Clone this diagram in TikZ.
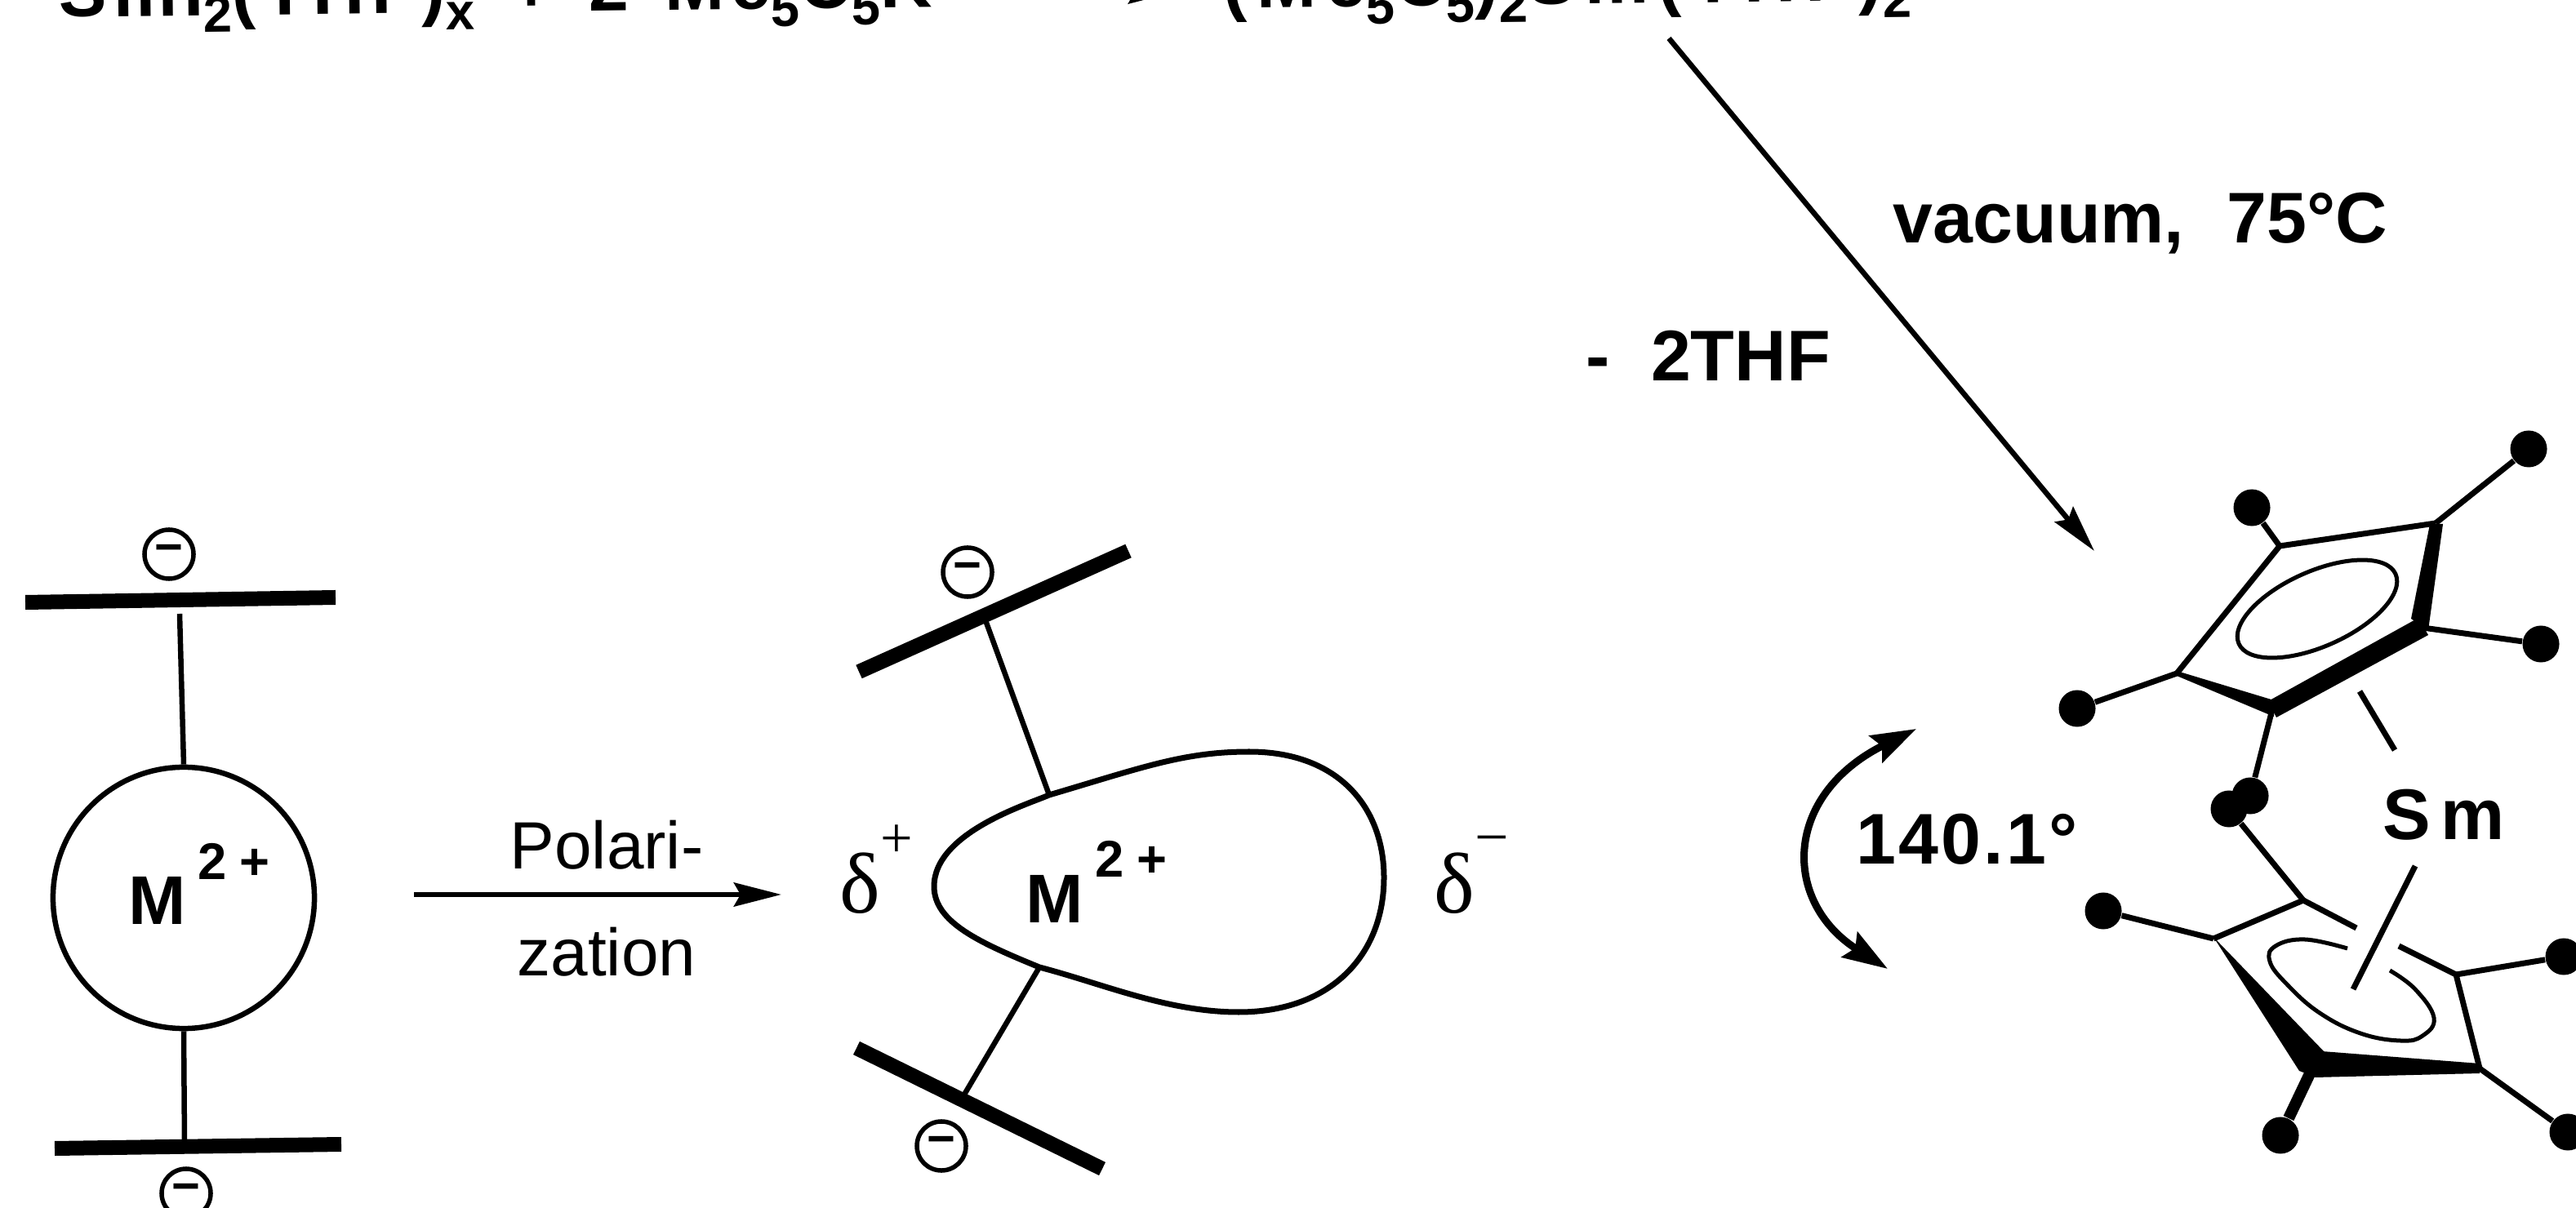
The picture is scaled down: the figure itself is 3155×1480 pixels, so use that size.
\documentclass[tikz,border=0pt]{standalone}
\usepackage{fontspec}
\setmainfont{Liberation Sans}
\newfontfamily\deltafont{Liberation Serif}
\usetikzlibrary{arrows.meta, shapes.geometric}
\newcommand{\subtext}[1]{\raisebox{-.21cm}{\fontsize{18}{18}\selectfont #1}}
\newcommand{\mion}{M\hspace{.14cm}\raisebox{.55cm}{\fontsize{18}{18}\selectfont 2\hspace{.16cm}+}}
\begin{document}
\begin{tikzpicture}[x=.01cm, y=-.01cm,
    every node/.style={inner sep=0pt},
    lab/.style={anchor=base west, font=\fontsize{25}{25}\bfseries\selectfont},
    formula/.style={lab, rotate=.65},
    ionlab/.style={anchor=base west, font=\fontsize{24}{24}\bfseries\selectfont},
    plainlab/.style={font=\fontsize{23.3}{23.3}\selectfont},
    deltalab/.style={anchor=base west, font=\fontsize{30}{30}\deltafont},
    charge/.style={circle, draw, line width=.055cm, minimum size=.6cm, font=\fontsize{17}{17}\bfseries\selectfont},
    bar/.style={line width=.18cm},
    stem/.style={line width=.065cm},
    ball/.style={circle, fill, minimum size=.45cm},
    bond/.style={line width=.07cm},
    rxn/.style={line width=.065cm, -{Stealth[length=.58cm, width=.29cm, inset=.08cm]}}]
  \useasboundingbox (0,0) rectangle (3155,1480);
  \clip (0,0) rectangle (3155,1480);

  % reaction line
  \node[formula] (educt) at (72,21) {\addfontfeature{LetterSpace=9}SmI\subtext{2}(THF)\subtext{x}\hspace{.12cm} +\hspace{.12cm} 2\hspace{.12cm} Me\subtext{5}C\subtext{5}K};
  \node[formula] (product) at (1498,10) {\addfontfeature{LetterSpace=13}(Me\subtext{5}C\subtext{5})\subtext{2}Sm(THF)\subtext{2}};
  \coordinate (rxnS) at (1000,-10);
  \coordinate (rxnE) at (1440,-10);
  \draw[rxn] (rxnS) -- (rxnE);

  % vacuum step
  \coordinate (vacS) at (2044,47);
  \coordinate (vacE) at (2565,675);
  \draw[rxn] (vacS) -- (vacE);
  \node[lab] (vac) at (2318,298) {vacuum,\hspace{.52cm}75°C};
  \node[lab] (thf) at (1942,467) {-\hspace{.5cm}2THF};

  % free ion
  \node[circle, draw, line width=.065cm, minimum size=3.2cm] (ionA) at (225,1100) {};
  \node[ionlab] (ionAlab) at (157,1133) {\mion};
  \coordinate (barAl) at (31,738);
  \coordinate (barAr) at (411,732);
  \coordinate (barAm) at (220,752);
  \coordinate (barBl) at (67,1407);
  \coordinate (barBr) at (418,1402);
  \coordinate (barBm) at (226,1399);
  \draw[bar] (barAl) -- (barAr);
  \draw[bar] (barBl) -- (barBr);
  \draw[stem] (barAm) -- (ionA.north);
  \draw[stem] (ionA.south) -- (barBm);
  \node[charge] (chA) at (207,679) {−};
  \node[charge] (chB) at (228,1462) {−};

  % polarization arrow
  \coordinate (polS) at (507,1096);
  \coordinate (polE) at (957,1096);
  \draw[rxn] (polS) -- (polE);
  \node[plainlab] (polA) at (743,1035) {Polari-};
  \node[plainlab] (polB) at (743,1166) {zation};

  % polarized ion
  \draw[line width=.07cm] (1144,1086) .. controls (1144,1020) and (1260,985) .. (1285,974) .. controls (1400,940) and (1450,921) .. (1530,921) .. controls (1640,921) and (1695,990) .. (1695,1075) .. controls (1695,1170) and (1630,1240) .. (1517,1240) .. controls (1430,1240) and (1350,1205) .. (1273,1185) .. controls (1200,1155) and (1144,1130) .. (1144,1086) -- cycle;
  \node[ionlab] (ionBlab) at (1256,1130) {\mion};
  \coordinate (barCl) at (1052,823);
  \coordinate (barCr) at (1382,675);
  \coordinate (barCm) at (1207,760);
  \coordinate (blobT) at (1285,974);
  \coordinate (barDl) at (1049,1284);
  \coordinate (barDr) at (1350,1432);
  \coordinate (barDm) at (1181,1341);
  \coordinate (blobB) at (1273,1185);
  \draw[bar] (barCl) -- (barCr);
  \draw[bar] (barDl) -- (barDr);
  \draw[stem] (barCm) -- (blobT);
  \draw[stem] (blobB) -- (barDm);
  \node[charge] (chC) at (1185,701) {−};
  \node[charge] (chD) at (1153,1404) {−};
  \node[deltalab] (deltaP) at (1028,1119) {δ\raisebox{.68cm}{\fontsize{20}{20}\selectfont +}};
  \node[deltalab] (deltaM) at (1756,1119) {δ\raisebox{.68cm}{\fontsize{21}{21}\selectfont −}};

  % bend angle
  \coordinate (angS) at (2347,893);
  \coordinate (angE) at (2312,1187);
  \draw[line width=.09cm, {Stealth[length=.55cm, width=.36cm, inset=.08cm]}-{Stealth[length=.55cm, width=.36cm, inset=.08cm]}] (angS) .. controls (2183,975) and (2183,1105) .. (angE);
  \node[lab] (angle) at (2273,1059) {\addfontfeature{LetterSpace=3.5}140.1°};

  % upper ring
  \coordinate (ra) at (2666,825);
  \coordinate (rb) at (2783,869);
  \coordinate (rc) at (2967,769);
  \coordinate (rd) at (2983,641);
  \coordinate (re) at (2792,669);
  \draw[bond] (ra) -- (re) -- (rd);
  \fill (2666,822) -- (2785,858) -- (2785,878) -- (2666,828) -- cycle;
  \fill (2778,859) -- (2962,757) -- (2974,778) -- (2788,879) -- cycle;
  \fill (2976,642) -- (2992,642) -- (2974,772) -- (2953,758) -- cycle;
  \node[ellipse, draw, line width=.05cm, minimum width=2.1cm, minimum height=.92cm, rotate=24] (ringA) at (2838,746) {};
  \node[ball] (ba) at (2544,868) {};
  \node[ball] (bb) at (2756,975) {};
  \node[ball] (bc) at (3112,789) {};
  \node[ball] (bd) at (3097,550) {};
  \node[ball] (be) at (2758,622) {};
  \draw[bond] (ra) -- (ba);
  \draw[bond] (rb) -- (bb);
  \draw[bond] (rc) -- (bc);
  \draw[bond] (rd) -- (bd);
  \draw[bond] (re) -- (be);

  % metal centre
  \node[lab] (sm) at (2918,1028) {S\hspace{.12cm}m};
  \coordinate (rodAa) at (2890,847);
  \coordinate (rodAb) at (2933,919);
  \coordinate (rodBa) at (2958,1061);
  \coordinate (rodBb) at (2882,1212);
  \draw[bond] (rodAa) -- (rodAb);
  \draw[bond] (rodBa) -- (rodBb);

  % lower ring
  \coordinate (rf) at (2821,1103);
  \coordinate (rg) at (2711,1150);
  \coordinate (rh) at (2832,1309);
  \coordinate (ri) at (3037,1309);
  \coordinate (rj) at (3008,1194);
  \coordinate (gapA) at (2886,1137);
  \coordinate (gapB) at (2938,1159);
  \draw[bond] (gapA) -- (rf) -- (rg);
  \draw[bond] (gapB) -- (rj) -- (ri);
  \fill (2711,1148) -- (2846,1288) -- (2837,1320) -- (2816,1312) -- cycle;
  \fill (2844,1288) -- (3037,1303) -- (3037,1315) -- (2835,1320) -- cycle;
  \draw[line width=.05cm] plot[smooth, tension=.7] coordinates {(2875,1162) (2823,1151) (2787,1159) (2780,1178) (2801,1206) (2841,1241) (2891,1266) (2940,1275) (2967,1269) (2981,1247) (2958,1212) (2927,1189)};
  \node[ball] (bf) at (2730,991) {};
  \node[ball] (bg) at (2576,1116) {};
  \node[ball] (bh) at (2793,1391) {};
  \node[ball] (bi) at (3145,1387) {};
  \node[ball] (bj) at (3140,1172) {};
  \draw[bond] (rf) -- (bf);
  \draw[bond] (rg) -- (bg);
  \draw[line width=.14cm] (rh) -- (bh);
  \draw[bond] (ri) -- (bi);
  \draw[bond] (rj) -- (bj);
\end{tikzpicture}
\end{document}
